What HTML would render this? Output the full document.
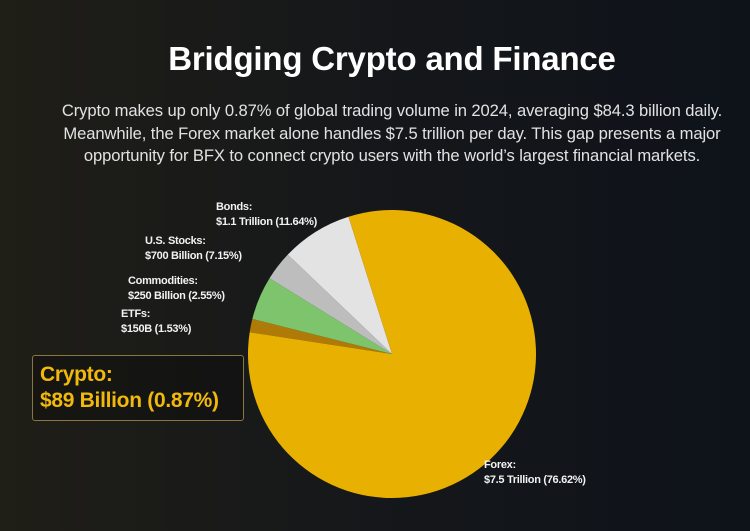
<!DOCTYPE html>
<html><head><meta charset="utf-8"><style>
body{margin:0;width:750px;height:531px;overflow:hidden;background:linear-gradient(90deg,#1f1e17 0%,#15171a 50%,#0e131a 100%);font-family:"Liberation Sans",sans-serif;position:relative}
.t{position:absolute;left:17px;width:750px;text-align:center;color:#fff}
.lab{position:absolute;color:#f2f2f2;font-weight:bold;font-size:11px;line-height:15px;letter-spacing:-0.3px}
</style></head><body>
<div class="t" style="top:40px;font-size:33px;font-weight:bold;letter-spacing:-0.2px">Bridging Crypto and Finance</div>
<div class="t" style="top:100px;font-size:16.6px;line-height:22.5px;color:#e2e2e2;letter-spacing:-0.1px">Crypto makes up only 0.87% of global trading volume in 2024, averaging $84.3 billion daily.<br>Meanwhile, the Forex market alone handles $7.5 trillion per day. This gap presents a major<br>opportunity for BFX to connect crypto users with the world’s largest financial markets.</div>
<svg id="pie" width="750" height="531" style="position:absolute;left:0;top:0"></svg>
<div class="lab" style="left:216px;top:200px">Bonds:<br>$1.1 Trillion (11.64%)</div>
<div class="lab" style="left:145px;top:234px">U.S. Stocks:<br>$700 Billion (7.15%)</div>
<div class="lab" style="left:128px;top:274px">Commodities:<br>$250 Billion (2.55%)</div>
<div class="lab" style="left:121px;top:307px">ETFs:<br>$150B (1.53%)</div>
<div class="lab" style="left:484px;top:458px">Forex:<br>$7.5 Trillion (76.62%)</div>
<div style="position:absolute;left:32px;top:355px;width:210px;height:64px;border:1px solid #8a7640;border-radius:3px;background:rgba(0,0,0,0.25)"></div>
<div style="position:absolute;left:40px;top:362px;color:#f0b90b;font-weight:bold;font-size:21px;line-height:26px;letter-spacing:-0.3px">Crypto:<br>$89 Billion (0.87%)</div>
<script>
const categories=["Crypto","ETFs","Commodities","Bonds","Forex"];
const shares=[1.5,4.9,3.3,8.0,82.3];
const colors=["#b07a08","#7dc46c","#bdbdbd","#e3e3e3","#e8b000"];
const svg=document.getElementById('pie');
const cx=392,cy=354,r=144,startDeg=278.7;
const total=shares.reduce((a,b)=>a+b,0);
let a=startDeg;
function pt(d){const t=d*Math.PI/180;return [cx+r*Math.sin(t),cy-r*Math.cos(t)];}
shares.forEach((v,i)=>{
  const sweep=v/total*360;const p1=pt(a),p2=pt(a+sweep);
  const p=document.createElementNS('http://www.w3.org/2000/svg','path');
  p.setAttribute('d',`M${cx},${cy}L${p1[0]},${p1[1]}A${r},${r} 0 ${sweep>180?1:0} 1 ${p2[0]},${p2[1]}Z`);
  p.setAttribute('fill',colors[i]);
  
  
  svg.appendChild(p);a+=sweep;
});
</script>
</body></html>
